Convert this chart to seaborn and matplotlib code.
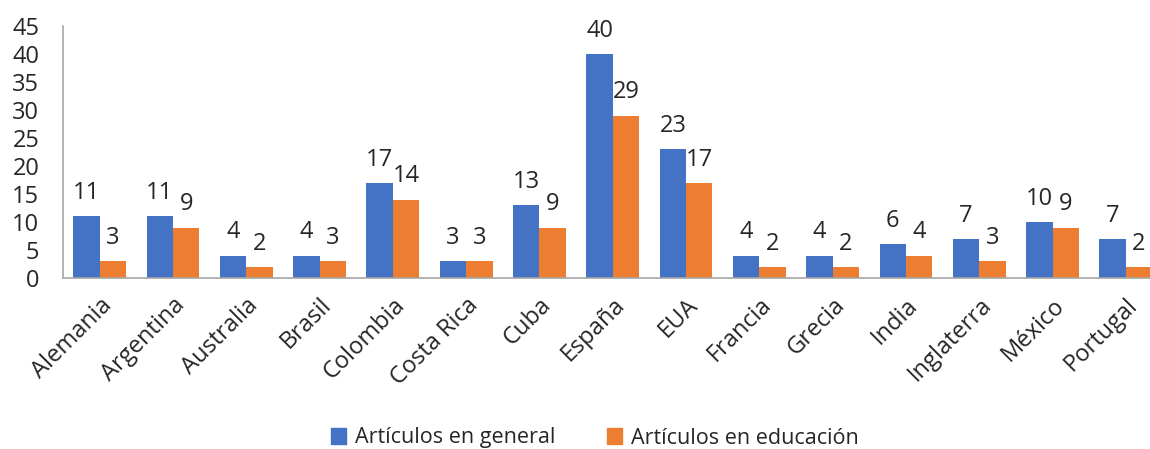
import matplotlib
matplotlib.use("Agg")
import matplotlib.pyplot as plt
import seaborn as sns
import pandas as pd

paises = ["Alemania", "Argentina", "Australia", "Brasil", "Colombia", "Costa Rica",
          "Cuba", "España", "EUA", "Francia", "Grecia", "India", "Inglaterra",
          "México", "Portugal"]
articulos_general = [11, 11, 4, 4, 17, 3, 13, 40, 23, 4, 4, 6, 7, 10, 7]
articulos_educacion = [3, 9, 2, 3, 14, 3, 9, 29, 17, 2, 2, 4, 3, 9, 2]
series = ["Artículos en general", "Artículos en educación"]
colores = ["#4472C4", "#ED7D31"]

df = pd.DataFrame({
    "pais": paises * 2,
    "valor": articulos_general + articulos_educacion,
    "serie": [series[0]] * len(paises) + [series[1]] * len(paises),
})

sns.set_theme(style="white")
plt.rcParams["font.family"] = ["Open Sans", "DejaVu Sans"]
texto = "#262626"

fig = plt.figure(figsize=(11.5, 4.49), dpi=100)
ax = fig.add_axes([63 / 1150, 171 / 449, 1099.5 / 1150, 252 / 449])

sns.barplot(data=df, x="pais", y="valor", hue="serie", palette=colores,
            width=0.72, linewidth=0, saturation=1, ax=ax, legend=True)

ax.set_xlim(-0.5, len(paises) - 0.5)
ax.set_ylim(0, 45)
ax.set_yticks(range(0, 46, 5))
ax.set_xlabel("")
ax.set_ylabel("")

for s in ["top", "right"]:
    ax.spines[s].set_visible(False)
for s in ["left", "bottom"]:
    ax.spines[s].set_color("#A6A6A6")
    ax.spines[s].set_linewidth(1.2)

ax.tick_params(axis="y", length=0, pad=17, labelsize=17, labelcolor=texto)
ax.tick_params(axis="x", length=0, pad=11, labelsize=17, labelcolor=texto)
for lbl in ax.get_xticklabels():
    lbl.set_rotation(45)
    lbl.set_ha("right")
    lbl.set_rotation_mode("anchor")

for cont in ax.containers:
    ax.bar_label(cont, fmt="%d", padding=8, fontsize=17, color=texto)

leg = ax.get_legend()
leg.remove()
handles = [plt.Rectangle((0, 0), 1, 1, color=c) for c in colores]
fig.legend(handles, series, loc="center", bbox_to_anchor=(595 / 1150, 11 / 449),
           ncol=2, frameon=False, fontsize=15.5, handlelength=0.7, handleheight=0.7,
           handletextpad=0.4, columnspacing=2.4, labelcolor=texto)

fig.savefig("out.png", dpi=100)
